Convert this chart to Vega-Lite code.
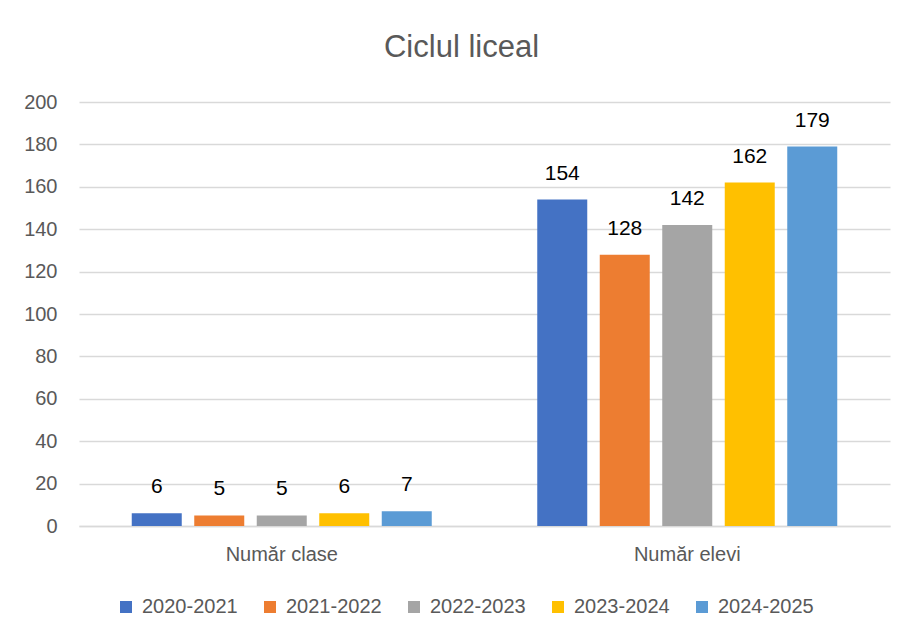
{
  "$schema": "https://vega.github.io/schema/vega-lite/v6.json",
  "autosize": {"type": "none"},
  "width": 811,
  "height": 424,
  "padding": {"left": 79, "top": 102, "right": 20, "bottom": 111},
  "background": "white",
  "title": {
    "text": "Ciclul liceal",
    "font": "Liberation Sans",
    "fontSize": 31,
    "fontWeight": "normal",
    "color": "#595959",
    "anchor": "middle",
    "offset": 28,
    "dx": -23
  },
  "config": {
    "view": {"stroke": null},
    "font": "Liberation Sans"
  },
  "data": {
    "values": [
      {"cat": "Număr clase", "an": "2020-2021", "v": 6},
      {"cat": "Număr clase", "an": "2021-2022", "v": 5},
      {"cat": "Număr clase", "an": "2022-2023", "v": 5},
      {"cat": "Număr clase", "an": "2023-2024", "v": 6},
      {"cat": "Număr clase", "an": "2024-2025", "v": 7},
      {"cat": "Număr elevi", "an": "2020-2021", "v": 154},
      {"cat": "Număr elevi", "an": "2021-2022", "v": 128},
      {"cat": "Număr elevi", "an": "2022-2023", "v": 142},
      {"cat": "Număr elevi", "an": "2023-2024", "v": 162},
      {"cat": "Număr elevi", "an": "2024-2025", "v": 179}
    ]
  },
  "encoding": {
    "x": {
      "field": "cat", "type": "nominal", "sort": null,
      "scale": {"paddingInner": 0, "paddingOuter": 0},
      "axis": {
        "title": null, "labelAngle": 0, "ticks": false,
        "domainColor": "#d9d9d9", "domainWidth": 1.5, "labelColor": "#595959",
        "labelFontSize": 20, "labelPadding": 18
      }
    },
    "xOffset": {
      "field": "an", "type": "nominal", "sort": null,
      "scale": {"paddingInner": 0.2, "paddingOuter": 0.844}
    },
    "y": {
      "field": "v", "type": "quantitative",
      "scale": {"domain": [0, 200], "nice": false},
      "axis": {
        "title": null, "values": [0, 20, 40, 60, 80, 100, 120, 140, 160, 180, 200],
        "domain": false, "ticks": false, "gridColor": "#d9d9d9", "gridWidth": 1.5,
        "labelColor": "#595959", "labelFontSize": 20, "labelPadding": 22
      }
    }
  },
  "layer": [
    {
      "mark": {"type": "bar"},
      "encoding": {
        "color": {
          "field": "an", "type": "nominal", "sort": null,
          "scale": {
            "domain": ["2020-2021", "2021-2022", "2022-2023", "2023-2024", "2024-2025"],
            "range": ["#4472C4", "#ED7D31", "#A5A5A5", "#FFC000", "#5B9BD5"]
          },
          "legend": {
            "title": null, "orient": "none", "direction": "horizontal",
            "legendX": 37, "legendY": 495,
            "symbolType": "square", "symbolSize": 144, "symbolStrokeWidth": 0,
            "labelFontSize": 20, "labelColor": "#595959",
            "columnPadding": 22, "labelOffset": 6
          }
        }
      }
    },
    {
      "mark": {"type": "text", "baseline": "bottom", "dy": -16, "fontSize": 21, "color": "#000000"},
      "encoding": {"text": {"field": "v", "type": "quantitative"}}
    }
  ]
}
